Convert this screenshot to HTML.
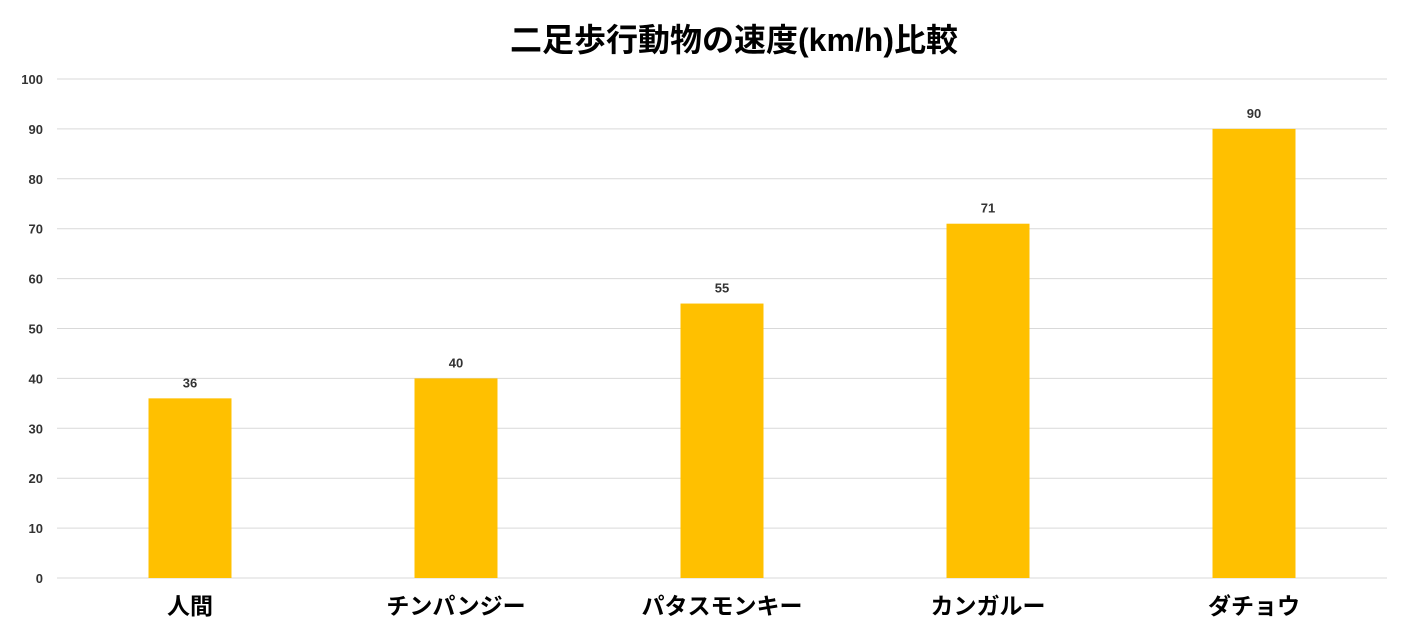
<!DOCTYPE html>
<html><head><meta charset="utf-8">
<style>
html,body{margin:0;padding:0;background:#fff;}
svg{display:block;font-family:"Liberation Sans","Noto Sans CJK JP",sans-serif;}
</style></head>
<body>
<svg id="chart" width="1404" height="640" viewBox="0 0 1404 640">
<text x="734" y="51" text-anchor="middle" font-size="32" font-weight="bold" fill="#000">二足歩行動物の速度(km/h)比較</text>
<g id="grid"></g><g id="bars"></g><g id="labels"></g>
</svg>
<script>
const categories = ["人間","チンパンジー","パタスモンキー","カンガルー","ダチョウ"];
const speeds = [36,40,55,71,90];
const yTicks = [0,10,20,30,40,50,60,70,80,90,100];
const NS="http://www.w3.org/2000/svg";
const x0=57,x1=1387,yBase=578,yTop=79,yMax=100;
const band=(x1-x0)/categories.length;
function y(v){return yBase-(v/yMax)*(yBase-yTop);}
function xc(i){return x0+band*(i+0.5);}
const grid=document.getElementById('grid'),bars=document.getElementById('bars'),labels=document.getElementById('labels');
function mk(tag,attrs,parent,text){const e=document.createElementNS(NS,tag);for(const k in attrs)e.setAttribute(k,attrs[k]);if(text!==undefined)e.textContent=text;parent.appendChild(e);return e;}
yTicks.forEach(t=>{
  const l=mk('line',{x1:x0,x2:x1,y1:y(t),y2:y(t),stroke:'#d9d9d9','stroke-width':1},grid);
  
  
  const tx=mk('text',{x:43,y:y(t)+5,'text-anchor':'end','font-size':13,'font-weight':'bold',fill:'#333'},grid,String(t));
  
  
});
const bw=83;
categories.forEach((c,i)=>{
  const v=speeds[i];
  const r=mk('rect',{x:xc(i)-bw/2,y:y(v),width:bw,height:yBase-y(v),fill:'#ffc000'},bars);
  
  
  const vl=mk('text',{x:xc(i),y:y(v)-11,'text-anchor':'middle','font-size':13,'font-weight':'bold',fill:'#333'},labels,String(v));
  
  
  const cl=mk('text',{x:xc(i),y:614,'text-anchor':'middle','font-size':23,'font-weight':'bold',fill:'#000'},labels,c);
  
  
});
</script>
</body></html>
